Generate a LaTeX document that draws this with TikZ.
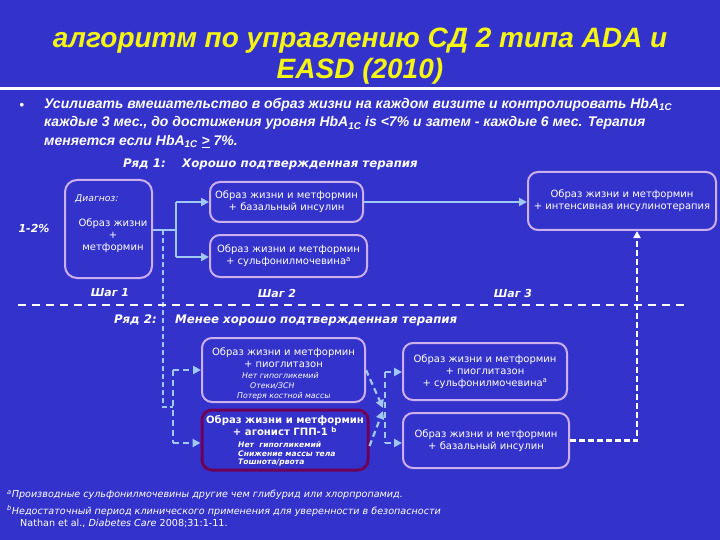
\documentclass[tikz,border=0pt]{standalone}
\usepackage{fontspec}
\setmainfont{Liberation Sans}
\newfontfamily\vf{DejaVu Sans}
\usetikzlibrary{arrows.meta}
\definecolor{bg}{RGB}{51,51,204}
\definecolor{ttl}{RGB}{245,245,20}
\definecolor{lav}{RGB}{205,175,240}
\definecolor{lblue}{RGB}{160,200,245}
\definecolor{plum}{RGB}{110,0,90}
\tikzset{
  box/.style={draw=lav,line width=2pt,rounded corners=10pt,minimum width=#1},
  boxtxt/.style={text=white,align=center,font=\vf\fontsize{10}{12}\selectfont,inner sep=0pt},
  smalltxt/.style={text=white,font=\vf\itshape\fontsize{7.8}{9}\selectfont,inner sep=0pt},
  lbl/.style={text=white,font=\vf\bfseries\itshape\fontsize{11.8}{13}\selectfont,inner sep=0pt},
  slbl/.style={text=white,font=\vf\bfseries\itshape\fontsize{11}{13}\selectfont,inner sep=0pt},
  conn/.style={draw=lblue,line width=2.5pt},
  dconn/.style={draw=lblue,line width=2.2pt,dash pattern=on 6pt off 4pt},
  tip/.style={-{Triangle[length=8pt,width=8pt]}},
  ftxt/.style={text=white,font=\vf\itshape\fontsize{9.6}{11}\selectfont,inner sep=0pt,anchor=west}
}
\begin{document}
\begin{tikzpicture}[x=1pt,y=-1pt]
\fill[bg] (0,0) rectangle (720,540);
\useasboundingbox (0,0) rectangle (720,540);
% title
\node[text=ttl,font=\bfseries\itshape\fontsize{28}{31}\selectfont,align=center,inner sep=0pt] (title) at (360,56)
  {алгоритм по управлению СД 2 типа ADA и\\EASD (2010)};
\draw[white,line width=3pt] (0,89) -- (720,89);
% bullet
\node[text=white,font=\fontsize{13}{17.5}\selectfont\bfseries,inner sep=0pt] (bul) at (22,106) {•};
\node[text=white,font=\bfseries\itshape\fontsize{14}{18.5}\selectfont,anchor=north west,align=left,inner sep=0pt] (btxt) at (44,98)
  {Усиливать вмешательство в образ жизни на каждом визите  и контролировать HbA\textsubscript{1C}\\
   каждые 3 мес., до достижения уровня HbA\textsubscript{1C} is <7\% и затем - каждые 6 мес. Терапия\\
   меняется если HbA\textsubscript{1C} \underline{>} 7\%.};
% row labels
\node[lbl,anchor=east] (r1) at (166,164) {Ряд 1:};
\node[lbl,anchor=west] (r1t) at (182,164) {Хорошо подтвержденная терапия};
\node[slbl] (s1) at (110,293) {Шаг 1};
\node[slbl] (s2) at (277,293) {Шаг 2};
\node[slbl] (s3) at (513,293) {Шаг 3};
\node[lbl,anchor=east] (r2) at (157,320) {Ряд 2:};
\node[lbl,anchor=west] (r2t) at (175,320) {Менее хорошо подтвержденная терапия};
\node[slbl] (pct) at (34,228) {1-2\%};
% boxes
\node[box=87pt,minimum height=98pt,rounded corners=12pt] (diag) at (108.5,229) {};
\node[smalltxt,font=\vf\itshape\fontsize{9.2}{11}\selectfont,anchor=west] (diagl) at (75,199) {Диагноз:};
\node[boxtxt] (diagt) at (113,236) {Образ жизни\\+\\метформин};
\node[box=153pt,minimum height=40pt] (b12a) at (286.5,202) {};
\node[boxtxt] at (b12a) {Образ жизни и метформин\\+ базальный инсулин};
\node[box=157pt,minimum height=42pt] (b12b) at (288.5,256) {};
\node[boxtxt] at (b12b) {Образ жизни и метформин\\+ сульфонилмочевина\textsuperscript{a}};
\node[box=188pt,minimum height=58pt] (b13) at (622,201) {};
\node[boxtxt] at (b13) {Образ жизни и метформин\\+ интенсивная инсулинотерапия};
\node[box=163pt,minimum height=64pt] (b22a) at (283.5,370) {};
\node[boxtxt] (b22at) at (283.5,357.5) {Образ жизни и метформин\\+ пиоглитазон};
\node[smalltxt,anchor=west] (p1) at (242,376) {Нет гипогликемий};
\node[smalltxt,anchor=west] (p2) at (250,386) {Отеки/ЗСН};
\node[smalltxt,anchor=west] (p3) at (237,396) {Потеря костной массы};
\node[box=166pt,minimum height=60pt,draw=plum,line width=3pt] (b22b) at (285,440) {};
\node[boxtxt,font=\vf\bfseries\fontsize{10.1}{10.5}\selectfont] (b22bt) at (285,426) {Образ жизни и метформин\\+ агонист ГПП-1 \textsuperscript{b}};
\node[smalltxt,font=\vf\bfseries\itshape\fontsize{7.6}{9}\selectfont,anchor=west] (g1) at (238,445) {Нет\ \ гипогликемий};
\node[smalltxt,font=\vf\bfseries\itshape\fontsize{7.6}{9}\selectfont,anchor=west] (g2) at (238,454) {Снижение массы тела};
\node[smalltxt,font=\vf\bfseries\itshape\fontsize{7.6}{9}\selectfont,anchor=west] (g3) at (238,463) {Тошнота/рвота};
\node[box=164pt,minimum height=57pt] (b23a) at (485,371.5) {};
\node[boxtxt] at (b23a) {Образ жизни и метформин\\+ пиоглитазон\\+ сульфонилмочевина\textsuperscript{a}};
\node[box=166pt,minimum height=55pt] (b23b) at (486,440.5) {};
\node[boxtxt] at (b23b) {Образ жизни и метформин\\+ базальный инсулин};
% row-1 connectors
\coordinate (j1) at (176,230);
\coordinate (j1a) at (176,202);
\coordinate (j1b) at (176,257);
\draw[conn] (diag.east |- j1) -- (j1);
\draw[conn] (j1a) -- (j1b);
\draw[conn,tip,lblue] (j1a) -- (b12a.west |- j1a);
\draw[conn,tip,lblue] (j1b) -- (b12b.west |- j1b);
\draw[conn,tip,lblue] (b12a.east) -- (b13.west |- b12a.east);
% row-2 connectors
\coordinate (v0) at (163,230);
\coordinate (v1) at (163,407);
\coordinate (v2) at (173,407);
\coordinate (k1) at (173,370);
\coordinate (k2) at (173,443);
\draw[draw=lblue,line width=1.4pt,dash pattern=on 5pt off 3pt] (v0) -- (v1) -- (v2);
\draw[dconn] (k1) -- (k2);
\draw[dconn,tip,lblue] (k1) -- (b22a.west |- k1);
\draw[dconn,tip,lblue] (k2) -- (b22b.west |- k2);
\coordinate (x1) at (383,408);
\coordinate (x2) at (383,411);
\draw[dconn,tip,lblue] (b22a.east) -- (x1);
\draw[dconn,tip,lblue] (b22b.east |- 0,446) -- (x2);
\coordinate (m1) at (385,372);
\coordinate (m2) at (385,443);
\draw[dconn] (m1) -- (m2);
\draw[dconn,tip,lblue] (m1) -- (b23a.west |- m1);
\draw[dconn,tip,lblue] (m2) -- (b23b.west |- m2);
\coordinate (w1) at (637,0);
\draw[white,line width=2.2pt,dash pattern=on 6pt off 3pt,-{Triangle[length=7pt,width=7pt]}] (b23b.east) -| (b13.south -| w1);
% divider
\draw[white,line width=2pt,dash pattern=on 8pt off 6pt] (18,305) -- (687,305);
% footnotes
\node[ftxt] (f1) at (7,495) {\textsuperscript{a}Производные сульфонилмочевины другие чем глибурид или хлорпропамид.};
\node[ftxt] (f2) at (7,511) {\textsuperscript{b}Недостаточный период клинического применения для уверенности в безопасности};
\node[ftxt,font=\vf\fontsize{9.6}{11}\selectfont] (f3) at (20,523) {Nathan et al., \textit{Diabetes Care} 2008;31:1-11.};
\end{tikzpicture}
\end{document}
